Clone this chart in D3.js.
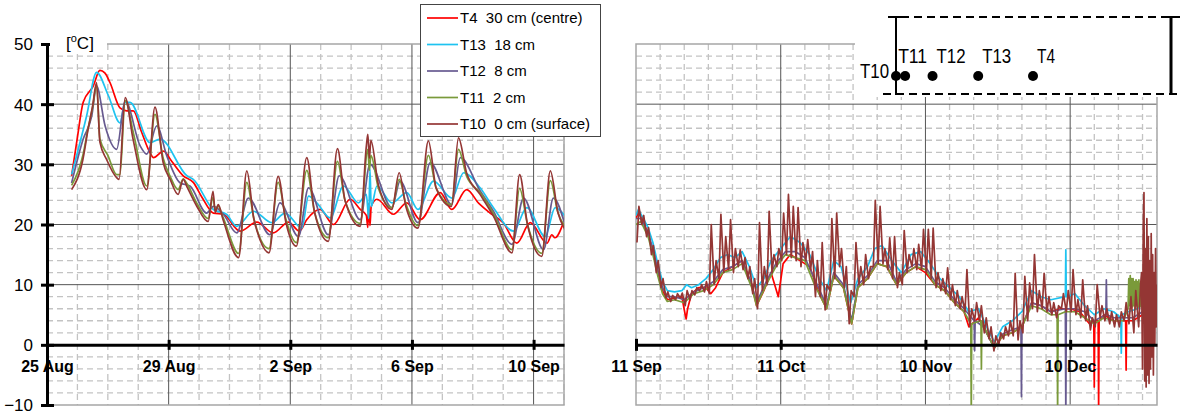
<!DOCTYPE html>
<html>
<head>
<meta charset="utf-8">
<script src="https://cdn.jsdelivr.net/npm/d3@7"></script>
<style>
  body { margin: 0; background: #fff; }
  svg { font-family: "Liberation Sans", Arial, sans-serif; }
</style>
</head>
<body>
<div id="chart"></div>
<script>
// ---- data: [days since start, degC] ----
var seriesNames = ["T4  30 cm (centre)", "T13  18 cm", "T12  8 cm", "T11  2 cm", "T10  0 cm (surface)"];
var seriesColors = ["#ff0000", "#1ec3f0", "#675a90", "#7a9a3a", "#943634"];
var yTicks = [-10, 0, 10, 20, 30, 40, 50];
var leftTickLabels = ["25 Aug", "29 Aug", "2 Sep", "6 Sep", "10 Sep"];
var rightTickLabels = ["11 Sep", "11 Oct", "10 Nov", "10 Dec"];

// left panel, days from 25 Aug
var t4Left = [[0.81,28.1],[1.0,34.5],[1.19,40.3],[1.52,43],[1.74,45.6],[1.9,45.2],[2.07,43.6],[2.4,39.4],[2.62,38.9],[2.84,38.9],[3.1,35.5],[3.39,31.9],[3.5,31.1],[3.83,32.2],[4.1,30.5],[4.48,28.1],[4.81,27],[5.1,24.5],[5.47,21.9],[5.8,21.7],[6.35,18.9],[6.9,20.4],[7.44,18.6],[7.94,20.4],[8.3,18.9],[8.54,20.8],[8.98,22.5],[9.42,20],[9.97,24.2],[10.3,22.5],[10.5,21.5],[10.55,19.5],[10.58,23.5],[10.62,19.8],[10.66,23],[10.85,24.2],[11.39,21.7],[11.83,23.6],[12.27,20.8],[12.93,25.3],[13.31,22.5],[13.8,25.8],[14.2,23.5],[14.57,21.9],[15.0,20.3],[15.45,16.9],[15.89,20.3],[16.44,16.9],[16.6,18.3],[16.7,17.8],[16.98,20.3]];
var t13Left = [[0.81,28.3],[1.3,38],[1.63,45.3],[2.02,41.4],[2.4,36.9],[2.57,40.3],[2.73,40.3],[3.39,33.6],[3.72,34.2],[4.6,28.1],[4.81,27.5],[5.47,22.5],[5.9,21.7],[6.24,19.7],[6.79,22.2],[7.39,20.3],[7.83,21.9],[8.38,19.4],[8.6,24.7],[8.87,23.6],[9.31,21.1],[9.75,26.4],[10.24,23.6],[10.5,25],[10.58,21],[10.62,29.2],[10.66,23],[10.85,26.4],[11.34,23.6],[11.83,25.3],[12.2,22.5],[12.71,27.2],[13.31,24.4],[13.7,28.6],[14.24,26.1],[14.68,22.8],[15.34,18.9],[15.78,22.8],[16.38,18],[16.71,22.8],[17.03,21.4]];
var t12Left = [[0.81,26.9],[1.19,34.2],[1.47,38],[1.63,43],[1.91,36.4],[2.29,32.5],[2.57,40.6],[3.06,33.1],[3.28,31.7],[3.61,36.4],[3.94,31.4],[4.38,26.9],[4.7,26.4],[5.25,21.9],[5.47,23],[5.8,21.7],[6.24,18.6],[6.62,24.4],[7.33,18.3],[7.66,23.6],[8.27,18],[8.6,26.1],[9.25,18.3],[9.61,28.1],[10.3,20.8],[10.62,30],[11.34,22.8],[11.61,27.2],[12.2,20.3],[12.6,30.3],[13.31,23.3],[13.59,31.1],[14.24,25.6],[14.68,22.2],[15.29,16.7],[15.67,24.4],[16.33,15.8],[16.65,24.4],[17.03,20]];
var t11Left = [[0.81,26.5],[1.18,31.5],[1.35,36],[1.5,39.5],[1.63,43.3],[1.74,34.2],[2.0,31.5],[2.29,28.3],[2.4,28.3],[2.57,40.6],[2.85,35],[3.28,26.4],[3.55,38.3],[3.82,31],[4.05,28],[4.31,25.8],[4.48,27.6],[4.6,26.8],[4.93,23.5],[5.3,21],[5.46,24.5],[5.53,22.5],[5.63,23],[5.79,21.2],[6.3,15.2],[6.57,27],[6.8,21],[7.3,16],[7.6,27],[7.85,21],[8.2,17],[8.54,29],[8.8,22],[9.25,17.8],[9.55,30.5],[9.8,24],[10.3,20.2],[10.55,32.5],[10.6,29],[10.65,31.5],[10.9,26],[11.34,22.8],[11.58,27.5],[11.8,23.5],[12.2,19.8],[12.54,31.5],[12.8,26],[13.3,23.3],[13.53,32.5],[13.8,28],[14.24,25.3],[14.68,21.8],[15.29,15.8],[15.54,26],[15.8,20],[16.27,15.2],[16.55,27.3],[16.8,22],[17.03,19.6]];
var t10Left = [[0.81,25.8],[1.18,30.8],[1.35,35.8],[1.5,39.7],[1.63,43.6],[1.74,33.7],[1.96,30.8],[2.29,27.8],[2.37,27.5],[2.57,41.1],[2.83,34.2],[3.28,25.8],[3.55,39.5],[3.82,30.3],[4.05,27.5],[4.31,25],[4.48,27.5],[4.6,26.3],[4.93,23],[5.3,20.5],[5.46,25.5],[5.53,22],[5.63,23.3],[5.79,20.8],[6.3,14.5],[6.57,28.9],[6.8,21],[7.0,17.5],[7.3,15.3],[7.6,28],[7.85,20.5],[8.2,16.4],[8.54,31.1],[8.8,22],[9.25,17.2],[9.55,32.6],[9.8,24],[10.3,19.7],[10.5,33],[10.55,35],[10.6,31],[10.65,34],[10.9,26.5],[11.34,22.5],[11.58,28.6],[11.8,23],[12.2,19.4],[12.54,33.9],[12.8,26],[13.3,23],[13.53,34.4],[13.8,28.5],[14.24,25],[14.68,21.4],[15.29,15.3],[15.54,28.3],[15.8,20],[16.27,14.7],[16.55,28.9],[16.8,22],[17.03,19.2]];

// right panel, days from 11 Sep
var t4Right = [[0,21],[0.5,22],[1.5,20.5],[2.5,18.5],[3.5,15.5],[4.5,12],[5.5,9],[6.5,7.5],[8,7.8],[9.5,8],[10.2,5],[10.4,4.3],[10.7,6],[11.5,8.5],[13,9.5],[14.5,9.5],[15.5,8.5],[16.5,9.5],[18,12],[20,13],[22,14],[24,10],[25,6.5],[26.5,9],[28,12],[29.5,8],[30.5,13.5],[32,15],[34,14],[36,13],[38,8.5],[39.5,6],[41,11.5],[43,9.5],[44.7,3.5],[46,9.5],[48,11],[50,13.5],[52,13],[54,10],[56,12],[58,13],[60,12],[62,10],[64,9],[66,7],[68,5.5],[69,3],[71,4.5],[73,1.5],[74.3,-0.5],[76,1.5],[78,2],[80,3],[82,7],[84,6.5],[86,5.5],[88,6],[90,6],[92,5.5],[94,3.5],[94.9,4],[95.0,-7],[95.1,4],[95.8,4],[95.9,-11],[96.0,4],[97,5],[99,4],[101.5,4],[101.6,-4.2],[101.7,4],[103,4],[105,5],[107,3]];
var t13Right = [[0,21.5],[0.5,22.5],[1.5,21],[2.5,19.5],[3.5,17],[4.5,13.5],[5.5,10.5],[6.5,9],[8,8.8],[9.5,9],[10.5,10],[11.5,9.5],[13,10],[14.5,11],[16,12.5],[17.5,14.5],[19,15],[20.5,14.5],[22,15.5],[23.5,13],[25,9.5],[26.5,11],[28,14],[30,16],[32,18],[34,17],[36,15],[38,11],[39.5,9],[41,14],[42.5,13],[44.5,7],[46,11],[48,13],[49.5,16],[51,16.5],[53,14],[55,12],[57,15],[59,15.5],[61,13.5],[63,11],[65,9.5],[67,8],[69,5.5],[71,6],[73,2.5],[74.3,0.5],[76,3],[78,4],[80,5.5],[82,9],[84,8],[86,7.5],[89,8],[89.1,15.8],[89.2,8],[91,8.5],[93,6.5],[95,5],[97,6],[99,5.5],[100.5,4.5],[100.6,-1.4],[100.7,5],[102,5.5],[104,6],[105,7]];
var t12Right = [[0,21],[1,21],[2.5,18.5],[3.5,16],[4.5,12.5],[5.5,9.5],[6.5,8],[8,8],[10,7.5],[12,8.8],[14,9.5],[16,10.5],[18,12.5],[20,13],[22,14],[24,10],[25,7],[27,10.5],[29,13.5],[31,15.5],[33,15.5],[35,14.5],[37,11],[39.5,6.5],[41,12],[43,10],[44.7,4],[46,10],[48,11.5],[50,14],[52,14],[54,10.5],[56,12.5],[58,13.5],[60,13],[62,10.5],[64,9.5],[66,7.5],[68,6],[70.1,4],[70.2,-1],[70.3,4],[72,3],[74.3,-0.5],[76,1.8],[78,2.5],[79.8,3],[79.9,-8.6],[80.0,3],[82,7],[84,6.5],[86,5.5],[89,6],[89.1,-12],[89.2,6],[91,6],[93,5.5],[95,4],[97.4,5],[97.5,10.8],[97.6,5],[99,4.5],[101,4.5],[103,4.5],[105,5.5],[107,3]];
var t11Right = [[0,20],[1,20.5],[2.5,18],[3.5,15],[4.5,11.5],[5.5,8.5],[6.5,7.2],[8,7.5],[10,7],[12,8.5],[14,9],[16,10],[18,12],[20,12.5],[22,13.5],[24,9.5],[25,6.5],[27,10],[29,13],[31,15],[33,14.5],[35,14],[37,10],[39.5,6],[41,11.5],[43,9.5],[44.7,3.5],[46,9.5],[48,11],[50,13.5],[52,13],[54,10],[56,12],[58,13],[60,12.5],[62,10],[64,9],[66,7],[68,5.5],[69.4,3.5],[69.5,-12],[69.6,3.5],[71.5,4],[71.6,-4],[71.7,4],[73,1.5],[74.3,-0.5],[76,1.5],[78,2],[80,3],[82,6.5],[84,6],[86,5],[87.3,5],[87.4,-12],[87.5,5],[89,5.5],[91,5.5],[93,4.5],[95,3.5],[97,4.5],[99,4],[101,4],[102,6],[102.15,11],[102.3,6.5],[102.45,11.5],[102.6,6],[102.75,11],[102.9,6.3],[103.05,11],[103.2,6.5],[103.35,10.5],[103.5,6],[103.65,10.8],[103.8,6.5],[103.95,10.5],[104.1,6.3],[104.25,10.8],[104.4,6.5],[104.55,10.2],[104.7,6.3],[104.85,10.5],[105,6.5],[105.3,10],[105.6,0],[106,12],[106.5,-3],[107,8]];
// T10 on the right: daily low (early morning) and daily high (afternoon), one per day from 11 Sep to 14 Dec
var t10RightLow = [17,20,18,15,12,9.5,7.8,7.2,7.5,7.8,6.5,7.5,8.3,9,8.8,8.5,10,11,12,12.5,12,13,12.5,11,8.5,6,9,10,12,13,14,15,14.5,14,13,14,12.5,8,8,5.8,9,11,13,9.5,3.5,8,10,10,11,13,13.5,13.5,12.5,11,9.5,10,12,13,12.5,12.5,12,11,9.5,9,8.5,7.5,6.5,6,5.5,3,4,4,2,1,-1,0,1,1.5,1.5,0.8,2,4,6,5.5,6,5.5,5,4.5,6,5.5,5.5,5,4.5,4,2.5,3,4.5,4,3.5,3,3,4,3.5,2,3];
var t10RightHigh = [23,21.5,19.5,16.5,14,11,8.8,8.2,8.5,8.6,9,9,9.5,10,10.5,20,14,21.7,18,20.8,16,15.8,14.5,13,11,20.3,13,22.2,15,16,21.9,25,23,22.8,17,17.5,15.5,14,17,10,21,21.9,16,13,9,17,13,15,13,24,23,16,17.8,18,12,19,15,16,16.7,19.2,19.2,19.4,12,11,12.8,10,9,8,12.5,6,7,6.5,4.5,3,1.5,2,3,4,11.9,4,11.4,10.3,15,9,11.9,8,7,6.5,8.5,9,12.5,7.5,10.8,6.5,4.5,10,6.5,6,5.5,5,5.5,7,8,9,10];
// last days of T10 (strong swings at the end of the record)
var t10RightEnd = [[104.8,12],[105.0,-4],[105.15,20],[105.3,25.3],[105.45,-6],[105.6,16],[105.75,-7],[105.9,21],[106.05,-5],[106.2,18],[106.35,-6.4],[106.5,14],[106.65,-4],[106.8,18.5],[106.95,-2],[107.1,15],[107.25,-5],[107.4,12],[107.55,0],[107.7,16],[107.85,3],[108,10]];
var lowTime = 0.2, highTime = 0.6;

var sensorNames = ["T10", "T11", "T12", "T13", "T4"];
var sensorDepth = [0, 2, 8, 18, 30];

var startLeft = Date.UTC(2013, 7, 25), endLeft = Date.UTC(2013, 8, 11);
var startRight = Date.UTC(2013, 8, 11), endRight = Date.UTC(2013, 11, 28);

var width = 1180, height = 414;
var top_y = 44, bottom_y = 405;

function toDate(start, d) {
  return new Date(start + d * 864e5);
}

svg = d3.select("#chart").append("svg").attr("width", width).attr("height", height);

yScale = d3.scaleLinear().domain([-10, 50]).range([bottom_y, top_y]);

function drawGrid(g, x, x0, x1, minorDates, majorDates) {
  // horizontal dashed every 2 degrees
  var minorY = d3.range(-8, 50, 2).filter(function (v) { return v % 10 !== 0; });
  g.selectAll("line.hminor").data(minorY).enter().append("line")
    .attr("x1", x0).attr("x2", x1)
    .attr("y1", function (d) { return yScale(d); }).attr("y2", function (d) { return yScale(d); })
    .attr("stroke", "#c3c3c3").attr("stroke-width", 1.3).attr("stroke-dasharray", "6,4");
  g.selectAll("line.vminor").data(minorDates).enter().append("line")
    .attr("x1", function (d) { return x(d); }).attr("x2", function (d) { return x(d); })
    .attr("y1", top_y).attr("y2", bottom_y)
    .attr("stroke", "#c3c3c3").attr("stroke-width", 1.3).attr("stroke-dasharray", "6,4");
  g.selectAll("line.hmajor").data([10, 20, 30, 40]).enter().append("line")
    .attr("x1", x0).attr("x2", x1)
    .attr("y1", function (d) { return yScale(d); }).attr("y2", function (d) { return yScale(d); })
    .attr("stroke", "#555").attr("stroke-width", 1);
  g.selectAll("line.vmajor").data(majorDates).enter().append("line")
    .attr("x1", function (d) { return x(d); }).attr("x2", function (d) { return x(d); })
    .attr("y1", top_y).attr("y2", bottom_y)
    .attr("stroke", "#555").attr("stroke-width", 1);
  g.append("rect").attr("x", x0).attr("y", top_y).attr("width", x1 - x0).attr("height", bottom_y - top_y)
    .attr("fill", "none").attr("stroke", "#a6a6a6").attr("stroke-width", 1.5);
}

function drawLines(g, x, start, list, clipId, curve) {
  var line = d3.line()
    .curve(curve)
    .x(function (d) { return x(toDate(start, d[0])); })
    .y(function (d) { return yScale(d[1]); });
  g.append("g").attr("clip-path", "url(#" + clipId + ")")
    .selectAll("path").data(list).enter().append("path")
    .attr("d", function (d) { return line(d); })
    .attr("fill", "none")
    .attr("stroke", function (d, i) { return seriesColors[i]; })
    .attr("stroke-width", 1.7)
    .attr("stroke-linejoin", "round");
}

function addClip(id, x0, x1) {
  svg.append("clipPath").attr("id", id).append("rect")
    .attr("x", x0).attr("y", top_y).attr("width", x1 - x0).attr("height", bottom_y - top_y);
}

function styleXAxis(a) {
  a.select(".domain").attr("stroke", "#000").attr("stroke-width", 3);
  a.selectAll(".tick line").attr("y1", -5).attr("y2", 5).attr("stroke", "#000").attr("stroke-width", 3);
  a.selectAll(".tick text").attr("y", 22).attr("dy", "0.35em")
    .attr("font-size", 16).attr("font-weight", "bold")
    .attr("font-family", "Liberation Sans, Arial, sans-serif").attr("fill", "#000");
}

// ---------- left chart ----------
function draw_left_chart() {
  var x0 = 47, x1 = 564;
  xLeft = d3.scaleUtc().domain([new Date(startLeft), new Date(endLeft)]).range([x0, x1]);
  var days = d3.utcDay.range(new Date(startLeft), new Date(endLeft + 1));
  var majors = days.filter(function (d, i) { return i % 4 === 0; });
  var minors = days.filter(function (d, i) { return i % 4 !== 0; });

  var g = svg.append("g");
  drawGrid(g, xLeft, x0, x1, minors, majors.slice(1));
  addClip("clipL", x0, x1);
  drawLines(g, xLeft, startLeft, [t4Left, t13Left, t12Left, t11Left, t10Left], "clipL", d3.curveMonotoneX);

  // x axis on the zero line
  var xAxis = d3.axisBottom(xLeft).tickValues(majors)
    .tickFormat(function (d, i) { return leftTickLabels[i]; }).tickSizeOuter(0);
  g.append("g").attr("transform", "translate(0," + yScale(0) + ")").call(xAxis)
    .call(styleXAxis);

  // y axis
  var yAxis = d3.axisLeft(yScale).tickValues(yTicks).tickSizeOuter(0);
  var ya = g.append("g").attr("transform", "translate(" + x0 + ",0)").call(yAxis);
  ya.select(".domain").attr("stroke", "#000").attr("stroke-width", 3);
  ya.selectAll(".tick line").attr("x1", -6).attr("x2", 7).attr("stroke", "#000").attr("stroke-width", 3);
  ya.selectAll(".tick text").attr("x", -14).attr("dy", "0.35em")
    .attr("font-size", 17).attr("font-family", "Liberation Sans, Arial, sans-serif").attr("fill", "#000");

  // unit label with white box
  g.append("rect").attr("x", 50).attr("y", 26).attr("width", 57).attr("height", 25).attr("fill", "#fff");
  var unit = g.append("text").attr("x", 66).attr("y", 49).attr("font-size", 17);
  unit.append("tspan").text("[");
  unit.append("tspan").attr("font-size", 11).attr("dy", -7).text("o");
  unit.append("tspan").attr("dy", 7).text("C]");
}

// ---------- right chart ----------
function draw_right_chart() {
  var x0 = 636, x1 = 1157;
  xRight = d3.scaleUtc().domain([new Date(startRight), new Date(endRight)]).range([x0, x1]);
  var days = d3.utcDay.range(new Date(startRight), new Date(endRight + 1));
  var majors = days.filter(function (d, i) { return i % 30 === 0; });
  var minors = days.filter(function (d, i) { return i % 5 === 0 && i % 30 !== 0; });

  var g = svg.append("g");
  drawGrid(g, xRight, x0, x1, minors, majors.slice(1));
  addClip("clipR", x0, x1);

  var t10Right = [];
  t10RightLow.forEach(function (v, i) {
    t10Right.push([i + lowTime, v]);
    t10Right.push([i + highTime, t10RightHigh[i]]);
  });
  t10Right = t10Right.concat(t10RightEnd);
  drawLines(g, xRight, startRight, [t4Right, t13Right, t12Right, t11Right, t10Right], "clipR", d3.curveLinear);

  var xAxis = d3.axisBottom(xRight).tickValues(majors)
    .tickFormat(function (d, i) { return rightTickLabels[i]; }).tickSizeOuter(0);
  var xa = g.append("g").attr("transform", "translate(0," + yScale(0) + ")").call(xAxis)
    .call(styleXAxis);
  xa.select(".tick line").attr("y1", -6).attr("y2", 6);
}

// ---------- legend ----------
function draw_legend() {
  var lg = svg.append("g");
  lg.append("rect").attr("x", 420.5).attr("y", 4.5).attr("width", 180).attr("height", 132)
    .attr("fill", "#fff").attr("stroke", "#444").attr("stroke-width", 1);
  var rowY = d3.scalePoint().domain(seriesNames).range([18, 124]);
  var rows = lg.selectAll("g.row").data(seriesNames).enter().append("g")
    .attr("transform", function (d) { return "translate(0," + rowY(d) + ")"; });
  rows.append("line").attr("x1", 427).attr("x2", 458)
    .attr("stroke", function (d, i) { return seriesColors[i]; }).attr("stroke-width", 1.7);
  rows.append("text").attr("x", 460).attr("dy", "0.35em").attr("font-size", 15)
    .style("white-space", "pre").text(function (d) { return d; });
}

// ---------- sensor sketch ----------
function draw_sketch() {
  var sg = svg.append("g");
  sg.append("rect").attr("x", 855).attr("y", 0).attr("width", 325).attr("height", 97).attr("fill", "#fff");
  var depth = d3.scaleLinear().domain([0, 30]).range([896, 1033]);
  sg.append("line").attr("x1", 888).attr("x2", 1180).attr("y1", 17).attr("y2", 17)
    .attr("stroke", "#000").attr("stroke-width", 2).attr("stroke-dasharray", "8,5");
  sg.append("line").attr("x1", 883).attr("x2", 1180).attr("y1", 94).attr("y2", 94)
    .attr("stroke", "#000").attr("stroke-width", 2).attr("stroke-dasharray", "8,5");
  sg.append("line").attr("x1", 896).attr("x2", 896).attr("y1", 17).attr("y2", 95)
    .attr("stroke", "#000").attr("stroke-width", 2);
  sg.append("line").attr("x1", 889).attr("x2", 903).attr("y1", 17).attr("y2", 17)
    .attr("stroke", "#000").attr("stroke-width", 2);
  sg.append("line").attr("x1", 1171).attr("x2", 1171).attr("y1", 17).attr("y2", 94)
    .attr("stroke", "#000").attr("stroke-width", 3);
  sg.append("line").attr("x1", 1166).attr("x2", 1176).attr("y1", 17).attr("y2", 17)
    .attr("stroke", "#000").attr("stroke-width", 2);
  sg.selectAll("circle").data(sensorDepth).enter().append("circle")
    .attr("cx", function (d) { return depth(d); }).attr("cy", 76).attr("r", 5).attr("fill", "#000");
  sg.selectAll("text").data(sensorNames).enter().append("text")
    .attr("x", function (d, i) {
      if (i === 0) return 860;
      if (i === 1) return depth(sensorDepth[i]) - 7;
      return depth(sensorDepth[i]) + 4;
    })
    .attr("y", function (d, i) { return i === 0 ? 78 : 63; })
    .attr("font-size", 20)
    .attr("textLength", function (d) { return d.length === 2 ? 18 : 29; })
    .attr("lengthAdjust", "spacingAndGlyphs")
    .text(function (d) { return d; });
}

draw_left_chart();
draw_right_chart();
draw_legend();
draw_sketch();
</script>
</body>
</html>
